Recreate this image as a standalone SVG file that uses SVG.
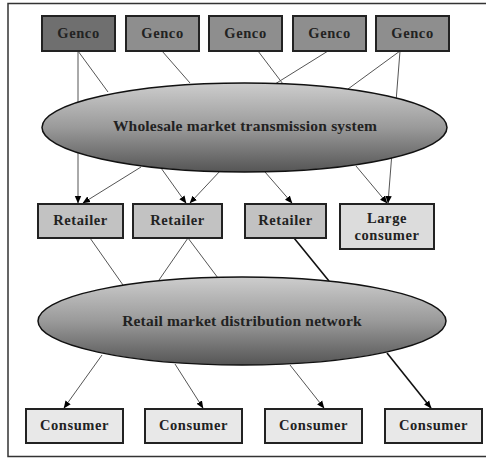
<svg xmlns="http://www.w3.org/2000/svg" width="486" height="458" viewBox="0 0 486 458">
<defs>
<linearGradient id="eg" x1="0" y1="0" x2="0" y2="1">
<stop offset="0" stop-color="#cdcdcd"/>
<stop offset="0.5" stop-color="#9a9a9a"/>
<stop offset="1" stop-color="#555555"/>
</linearGradient>
<marker id="ah" markerWidth="8" markerHeight="8" refX="7" refY="4" orient="auto" markerUnits="userSpaceOnUse">
<path d="M0,0.8 L7.5,4 L0,7.2 Z" fill="#000"/>
</marker>
</defs>
<style>
.box{stroke:#222;stroke-width:2}
.genco{fill:#8e8e8e}
.genco1{fill:#6f6f6f}
.ret{fill:#c2c2c2}
.large{fill:#dcdcdc}
.cons{fill:#e8e8e8}
.ell{fill:url(#eg);stroke:#111;stroke-width:1.5}
text{font-family:'Liberation Serif','Times New Roman','DejaVu Serif',serif;font-weight:bold;fill:#222;text-anchor:middle}
.t{font-size:14.5px;letter-spacing:0.6px}
.et{font-size:15.5px;letter-spacing:0.2px}
.c{stroke:#555;stroke-width:1;fill:none}
.cd{stroke:#111;stroke-width:1.6;fill:none}
</style>
<rect x="8" y="3.5" width="490" height="453" fill="#fff" stroke="#333" stroke-width="1.5"/>
<g id="connectors">
<line class="c" x1="78" y1="51" x2="78" y2="203" marker-end="url(#ah)"/>
<line class="c" x1="78" y1="51" x2="108" y2="92"/>
<line class="c" x1="162" y1="51" x2="190" y2="83"/>
<line class="c" x1="258" y1="51" x2="283" y2="84"/>
<line class="c" x1="328" y1="51" x2="275" y2="84"/>
<line class="c" x1="400" y1="51" x2="348" y2="89"/>
<line class="c" x1="400" y1="51" x2="388" y2="203" marker-end="url(#ah)"/>
<line class="c" x1="141" y1="167" x2="83" y2="203" marker-end="url(#ah)"/>
<line class="c" x1="161" y1="168" x2="186" y2="203" marker-end="url(#ah)"/>
<line class="c" x1="221" y1="170" x2="190" y2="203" marker-end="url(#ah)"/>
<line class="c" x1="265" y1="172" x2="292" y2="203" marker-end="url(#ah)"/>
<line class="c" x1="356" y1="166" x2="387" y2="203" marker-end="url(#ah)"/>
<line class="c" x1="90" y1="238" x2="123" y2="285"/>
<line class="c" x1="188" y1="238" x2="159" y2="280"/>
<line class="c" x1="188" y1="238" x2="218" y2="278"/>
<line class="cd" x1="294" y1="238" x2="329" y2="281"/>
<line class="c" x1="102" y1="355" x2="64" y2="408" marker-end="url(#ah)"/>
<line class="c" x1="175" y1="364" x2="203" y2="408" marker-end="url(#ah)"/>
<line class="c" x1="290" y1="365" x2="324" y2="408" marker-end="url(#ah)"/>
<line class="cd" x1="387" y1="353" x2="431" y2="408" marker-end="url(#ah)"/>
</g>
<g id="wholesale">
<ellipse class="ell" cx="244.5" cy="127.5" rx="202.5" ry="44.5"/>
<text class="et" x="245" y="131">Wholesale market transmission system</text>
</g>
<g id="retail">
<ellipse class="ell" cx="242" cy="321" rx="204" ry="44"/>
<text class="et" x="242" y="326">Retail market distribution network</text>
</g>
<g id="genco1"><rect class="box genco1" x="42" y="16" width="73" height="35"/><text class="t" x="78.5" y="38">Genco</text></g>
<g id="genco2"><rect class="box genco" x="126" y="16" width="73" height="35"/><text class="t" x="162.5" y="38">Genco</text></g>
<g id="genco3"><rect class="box genco" x="209" y="16" width="73" height="35"/><text class="t" x="245.5" y="38">Genco</text></g>
<g id="genco4"><rect class="box genco" x="293" y="16" width="73" height="35"/><text class="t" x="329.5" y="38">Genco</text></g>
<g id="genco5"><rect class="box genco" x="376" y="16" width="73" height="35"/><text class="t" x="412.5" y="38">Genco</text></g>
<g id="retailer1"><rect class="box ret" x="38" y="204" width="85" height="34"/><text class="t" x="80.5" y="225">Retailer</text></g>
<g id="retailer2"><rect class="box ret" x="133" y="204" width="89" height="34"/><text class="t" x="177.5" y="225">Retailer</text></g>
<g id="retailer3"><rect class="box ret" x="245" y="204" width="81" height="34"/><text class="t" x="285.5" y="225">Retailer</text></g>
<g id="large"><rect class="box large" x="340" y="204" width="94" height="45"/><text class="t" x="387" y="223">Large</text><text class="t" x="387" y="240">consumer</text></g>
<g id="consumer1"><rect class="box cons" x="26" y="409" width="97" height="34"/><text class="t" x="74.5" y="430">Consumer</text></g>
<g id="consumer2"><rect class="box cons" x="145" y="409" width="97" height="34"/><text class="t" x="193.5" y="430">Consumer</text></g>
<g id="consumer3"><rect class="box cons" x="265" y="409" width="97" height="34"/><text class="t" x="313.5" y="430">Consumer</text></g>
<g id="consumer4"><rect class="box cons" x="385" y="409" width="97" height="34"/><text class="t" x="433.5" y="430">Consumer</text></g>
</svg>
